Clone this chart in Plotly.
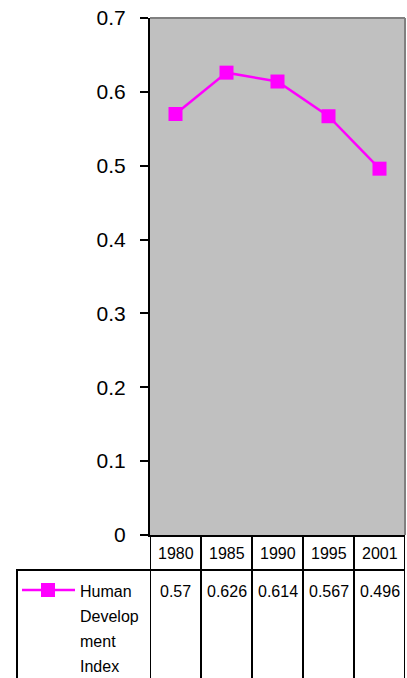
import plotly.graph_objects as go

categories = ["1980", "1985", "1990", "1995", "2001"]
hdi_values = [0.57, 0.626, 0.614, 0.567, 0.496]
value_labels = ["0.57", "0.626", "0.614", "0.567", "0.496"]
series_name_lines = ["Human", "Develop", "ment", "Index"]
y_ticks = [0, 0.1, 0.2, 0.3, 0.4, 0.5, 0.6, 0.7]

W, H = 407, 678
L, R, T, B = 150, 2, 18, 143
plot_h = H - T - B
plot_w = W - L - R


def py(pix):
    return (H - B - pix) / plot_h


def px(pix):
    return (pix - L) / plot_w


MAG = "#ff00ff"
FONT = "Liberation Sans, Arial, sans-serif"

fig = go.Figure()
fig.add_trace(go.Scatter(
    x=categories, y=hdi_values, mode="lines+markers",
    line=dict(color=MAG, width=2.5),
    marker=dict(symbol="square", size=14, color=MAG, line=dict(width=0)),
    showlegend=False, hoverinfo="skip",
))

shapes = []
blk = dict(color="black", width=2)
# top and right plot border (gray)
shapes.append(dict(type="line", xref="paper", yref="paper", x0=0, x1=1, y0=1, y1=1,
                   line=dict(color="#808080", width=2)))
shapes.append(dict(type="line", xref="paper", yref="paper", x0=1, x1=1, y0=0, y1=1,
                   line=dict(color="#808080", width=2)))
# table vertical lines between/around categories
n = len(categories)
for i in range(n + 1):
    shapes.append(dict(type="line", xref="x", yref="paper", x0=i - 0.5, x1=i - 0.5,
                       y0=0, y1=py(H + 2), line=blk))
# table horizontal line under category row
shapes.append(dict(type="line", xref="paper", yref="paper", x0=px(16), x1=1,
                   y0=py(570), y1=py(570), line=blk))
# legend cell left border
shapes.append(dict(type="line", xref="paper", yref="paper", x0=px(17), x1=px(17),
                   y0=py(570), y1=py(H + 2), line=blk))
# legend key line + square
shapes.append(dict(type="line", xref="paper", yref="paper", x0=px(22), x1=px(75),
                   y0=py(590), y1=py(590), line=dict(color=MAG, width=2.5)))
shapes.append(dict(type="rect", xref="paper", yref="paper", x0=px(41), x1=px(55),
                   y0=py(597), y1=py(583), line=dict(width=0), fillcolor=MAG))

annotations = []
for i, c in enumerate(categories):
    annotations.append(dict(x=i, xref="x", y=py(553), yref="paper", text=c,
                            showarrow=False, font=dict(family=FONT, size=16, color="black"),
                            xanchor="center", yanchor="middle"))
for i, v in enumerate(value_labels):
    annotations.append(dict(x=i, xref="x", y=py(591), yref="paper", text=v,
                            showarrow=False, font=dict(family=FONT, size=16, color="black"),
                            xanchor="center", yanchor="middle"))
for i, t in enumerate(series_name_lines):
    annotations.append(dict(x=px(78), xref="paper", y=py(591 + i * 25.3), yref="paper", text=t,
                            showarrow=False, font=dict(family=FONT, size=16, color="black"),
                            xanchor="left", yanchor="middle"))

fig.update_layout(
    width=W, height=H,
    margin=dict(l=L, r=R, t=T, b=B, pad=0),
    paper_bgcolor="white", plot_bgcolor="#c0c0c0",
    shapes=shapes, annotations=annotations,
    xaxis=dict(type="category", categoryarray=categories, range=[-0.5, n - 0.5],
               showticklabels=False, ticks="", showgrid=False, zeroline=False,
               showline=True, linecolor="black", linewidth=2, fixedrange=True),
    yaxis=dict(range=[0, 0.7], tickvals=y_ticks, ticktext=[str(v) for v in y_ticks],
               ticks="outside", ticklen=8, tickwidth=2, tickcolor="black",
               tickfont=dict(family=FONT, size=21, color="black"), ticklabelstandoff=10,
               showgrid=False, zeroline=False, showline=True, linecolor="black",
               linewidth=2, fixedrange=True),
    showlegend=False,
)

fig.write_html("out.html", config={"displayModeBar": False},
               post_script="document.body.style.margin='0';")
